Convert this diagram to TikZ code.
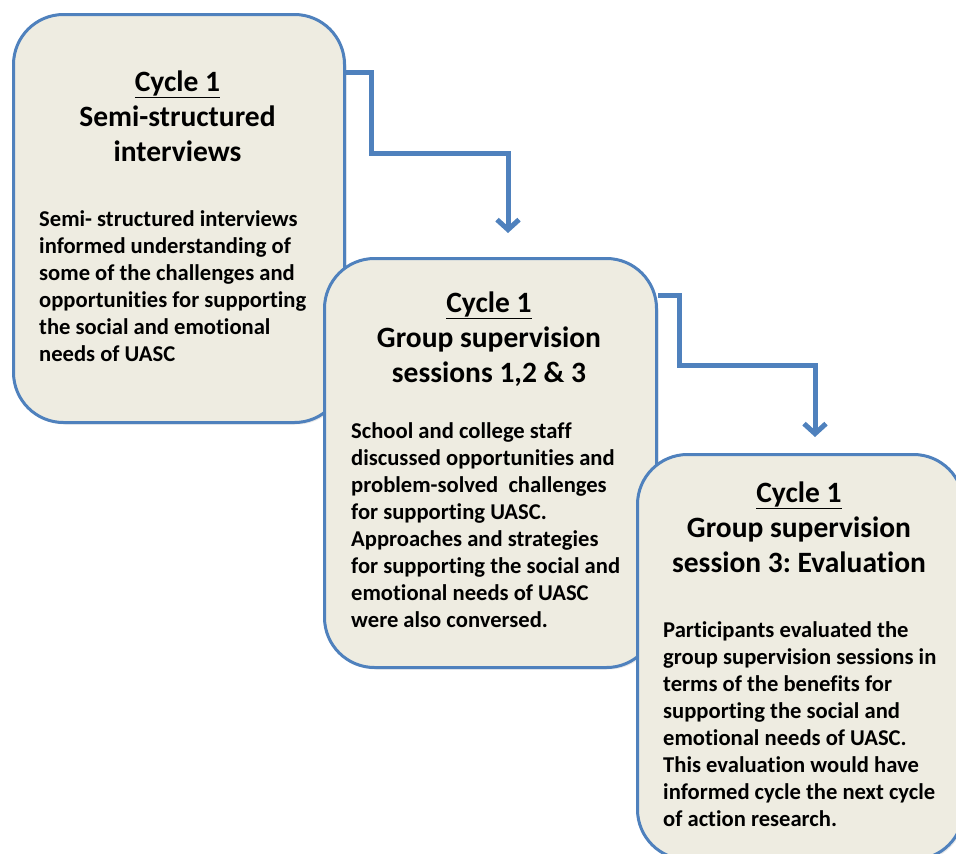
\documentclass[tikz,border=0pt]{standalone}
\usepackage{fontspec}
\setmainfont{Carlito}[Ligatures=NoCommon]
\usetikzlibrary{arrows.meta,shadows,calc}
\definecolor{frameblue}{HTML}{4F81BD}
\definecolor{boxfill}{HTML}{EEECE1}
\frenchspacing
\newcommand{\titlefont}{\fontsize{29.5}{35}\selectfont\bfseries}
\newcommand{\bodyfont}{\fontsize{22.6}{27}\selectfont\bfseries}
\newcommand{\centerlines}[1]{\begin{tabular}[t]{@{}c@{}}#1\end{tabular}}
\newcommand{\leftlines}[1]{\begin{tabular}[t]{@{}l@{}}#1\end{tabular}}
\begin{document}
\begin{tikzpicture}[x=1pt,y=-1pt,
  stagebox/.style={draw=frameblue, line width=3pt, fill=boxfill,
    rounded corners=50pt, anchor=north west, inner sep=0pt,
    drop shadow={opacity=0.18, shadow xshift=2pt, shadow yshift=-2pt}},
  titletext/.style={anchor=base, inner sep=0pt, font=\titlefont},
  bodytext/.style={anchor=base west, inner sep=0pt, font=\bodyfont},
  flow/.style={draw=frameblue, line width=5pt, line join=miter,
    -{Straight Barb[length=10pt,width=22pt]}}]

\useasboundingbox (0,0) rectangle (956,854);
\begin{scope}
\clip (0,0) rectangle (956,854);

% three stages, each overlapping the previous one
\node[stagebox, minimum width=331pt, minimum height=408pt] (b1) at (12,13) {};
\node[stagebox, minimum width=332pt, minimum height=409pt] (b2) at (323,257) {};
\node[stagebox, minimum width=326pt, minimum height=405pt] (b3) at (636,453) {};

% headings
\node[titletext] (t1) at (177.5,91) {\centerlines{\underline{Cycle 1}\\Semi-structured\\interviews}};
\node[titletext] (t2) at (489,312) {\centerlines{\underline{Cycle 1}\\Group supervision\\sessions 1,2 \& 3}};
\node[titletext] (t3) at (799,502) {\centerlines{\underline{Cycle 1}\\Group supervision\\session 3: Evaluation}};

% descriptions
\node[bodytext] (d1) at (39,226) {\leftlines{Semi- structured interviews\\informed understanding of\\some of the challenges and\\opportunities for supporting\\the social and emotional\\needs of UASC}};
\node[bodytext] (d2) at (351,438) {\leftlines{School and college staff\\discussed opportunities and\\problem-solved~ challenges\\for supporting UASC.\\Approaches and strategies\\for supporting the social and\\emotional needs of UASC\\were also conversed.}};
\node[bodytext] (d3) at (663,637) {\leftlines{Participants evaluated the\\group supervision sessions in\\terms of the benefits for\\supporting the social and\\emotional needs of UASC.\\This evaluation would have\\informed cycle the next cycle\\of action research.}};

% elbow connectors between stages
\coordinate (a1s) at ($(b1.north east)+(0,59)$);
\coordinate (a1e) at ($(b2.north west)+(185,-24)$);
\coordinate (a2s) at ($(b2.north east)+(0,38)$);
\coordinate (a2e) at ($(b3.north west)+(179,-16)$);
\draw[flow] (a1s) -| (371,153) -| (a1e);
\draw[flow] (a2s) -| (679,365) -| (a2e);
\end{scope}
\end{tikzpicture}
\end{document}
